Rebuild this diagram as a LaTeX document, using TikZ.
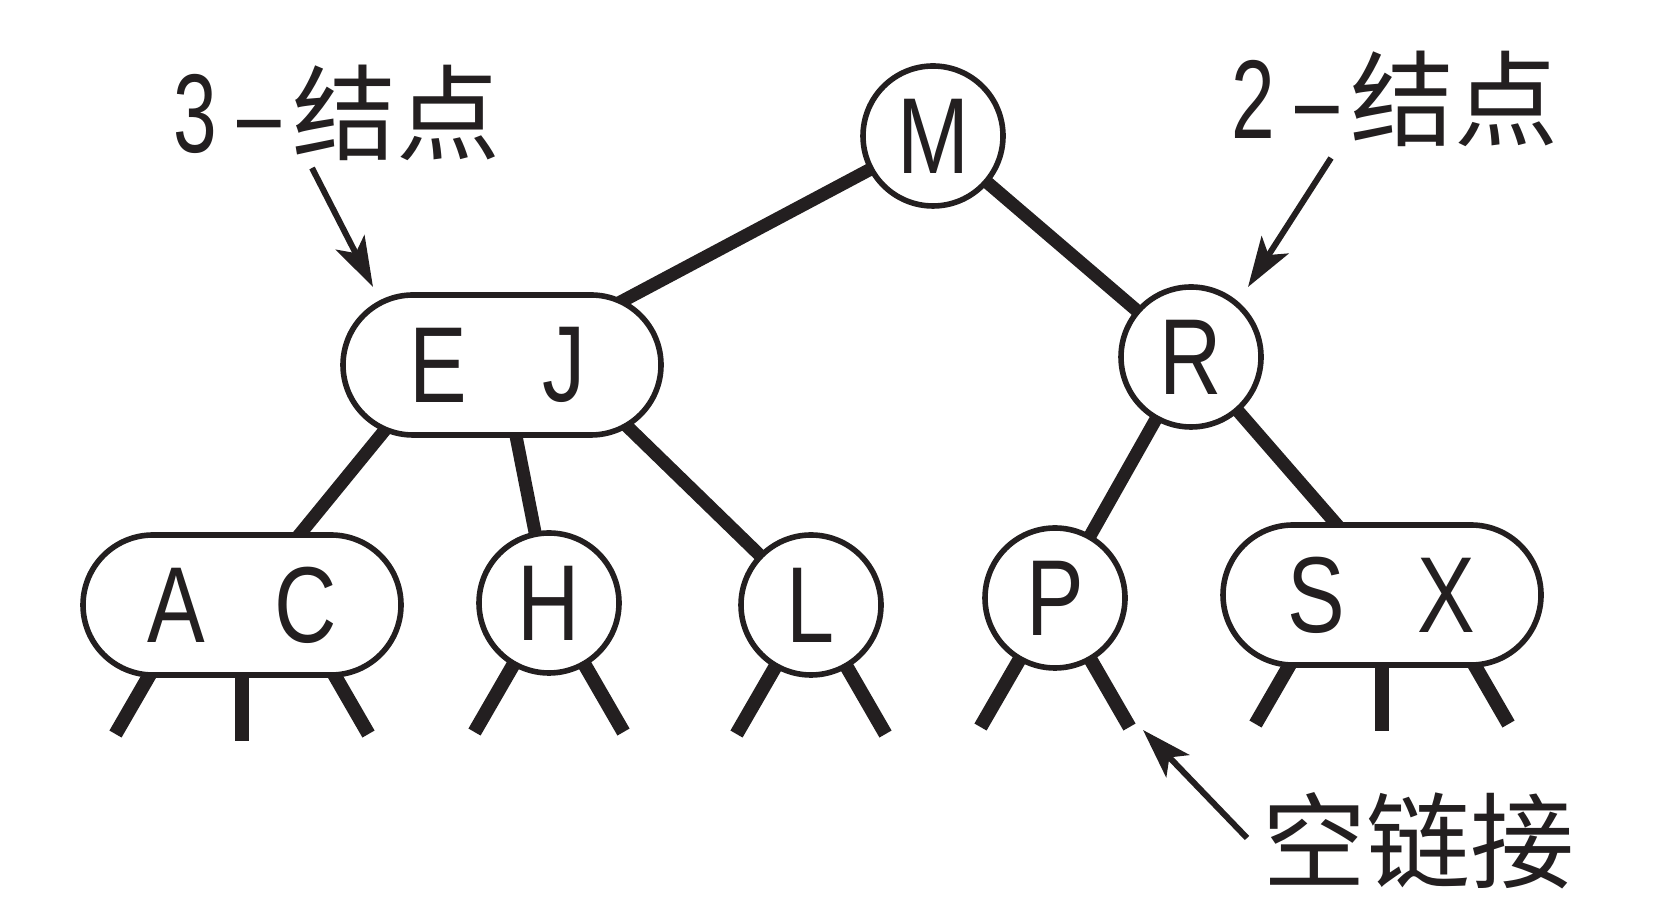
\documentclass[tikz,border=0pt]{standalone}
\usepackage{fontspec}
\usepackage{graphicx}
\usepackage{tikz}
\usetikzlibrary{arrows.meta}
\usetikzlibrary{backgrounds}
\newfontfamily\keyfont{Liberation Sans}
\newfontfamily\cjk{Noto Sans CJK SC}
\definecolor{ink}{RGB}{35,31,32}
\newcommand{\narrow}[1]{\scalebox{0.8}[1]{#1}}
\newcommand{\thin}[1]{\scalebox{0.7}[1]{#1}}

\begin{document}
\begin{tikzpicture}[line join=round,>={Stealth[length=25pt,width=16pt,inset=6pt]},x=0.5pt,y=0.5pt,
  twonode/.style={circle,draw=ink,line width=2.8pt,fill=white,text=ink,minimum size=70pt,inner sep=0pt,font=\keyfont\fontsize{54}{60}\selectfont},
  threenode/.style={rectangle,draw=ink,line width=2.8pt,fill=white,rounded corners=35pt,minimum width=159pt,minimum height=70pt,inner sep=0pt},
  key/.style={inner sep=0pt,text=ink,font=\keyfont\fontsize{54}{60}\selectfont},
  link/.style={draw=ink,line width=6.5pt},
  nulllink/.style={draw=ink,line width=7pt},
  pointer/.style={draw=ink,fill=ink,line width=3pt,->},
  lbl/.style={inner sep=0pt,anchor=base west,text=ink,font=\keyfont\fontsize{56}{60}\selectfont}]
\useasboundingbox (0,0) rectangle (1673,903);
%
\node[twonode] (M) at (933,767) {\narrow{M}};
\node[twonode] (R) at (1191,546) {\narrow{R}};
\node[threenode] (EJ) at (502,538) {};
\node[key] (E) at ([xshift=-32pt]EJ.center) {\narrow{E}};
\node[key] (J) at ([xshift=31pt]EJ.center) {\narrow{J}};
\node[threenode] (AC) at (242,298) {};
\node[key] (A) at ([xshift=-33pt]AC.center) {\narrow{A}};
\node[key] (C) at ([xshift=32pt]AC.center) {\narrow{C}};
\node[twonode] (H) at (549,300) {\narrow{H}};
\node[twonode] (L) at (811,298) {\narrow{L}};
\node[twonode] (P) at (1055,305) {\narrow{P}};
\node[threenode] (SX) at (1382,308) {};
\node[key] (S) at ([xshift=-33pt]SX.center) {\narrow{S}};
\node[key] (X) at ([xshift=32pt]SX.center) {\narrow{X}};
%
\begin{scope}[on background layer]
\draw[link] (M.center)--(EJ.center);
\draw[link] (M.center)--(R.center);
\draw[link] (E.center)--(AC.center);
\draw[link] (EJ.center)--(H.center);
\draw[link] (J.center)--(L.center);
\draw[link] (R.center)--(P.center);
\draw[link] (R.center)--([xshift=8pt]SX.center);
%
\draw[nulllink] ([xshift=-26pt]AC.center)--++(240:149);
\draw[nulllink] (AC.center)--++(0,-136);
\draw[nulllink] ([xshift=26pt]AC.center)--++(300:149);
\draw[nulllink] (H.center)--++(240:149);
\draw[nulllink] (H.center)--++(300:149);
\draw[nulllink] (L.center)--++(240:149);
\draw[nulllink] (L.center)--++(300:149);
\draw[nulllink] (P.center)--++(240:149);
\draw[nulllink] (P.center)--++(300:149);
\draw[nulllink] ([xshift=-26pt]SX.center)--++(240:149);
\draw[nulllink] (SX.center)--++(0,-136);
\draw[nulllink] ([xshift=26pt]SX.center)--++(300:149);
\end{scope}
%
\node[lbl] (lbl3) at (173,750) {\thin{3}\hspace{10pt}\thin{–}\hspace{6pt}{\cjk\fontsize{52}{60}\selectfont 结点}};
\node[lbl] (lbl2) at (1231,764) {\thin{2}\hspace{10pt}\thin{–}\hspace{6pt}{\cjk\fontsize{52}{60}\selectfont 结点}};
\node[lbl,font=\cjk\fontsize{52}{60}\selectfont] (lblnull) at (1262,22) {空链接};
%
\coordinate (tail3) at (312,735);
\coordinate (tip3) at (373,616);
\coordinate (tail2) at (1331,745);
\coordinate (tip2) at (1248,616);
\coordinate (tailnull) at (1247,65);
\coordinate (tipnull) at (1143,173);
\draw[pointer] (tail3)--(tip3);
\draw[pointer] (tail2)--(tip2);
\draw[pointer] (tailnull)--(tipnull);
\end{tikzpicture}
\end{document}
